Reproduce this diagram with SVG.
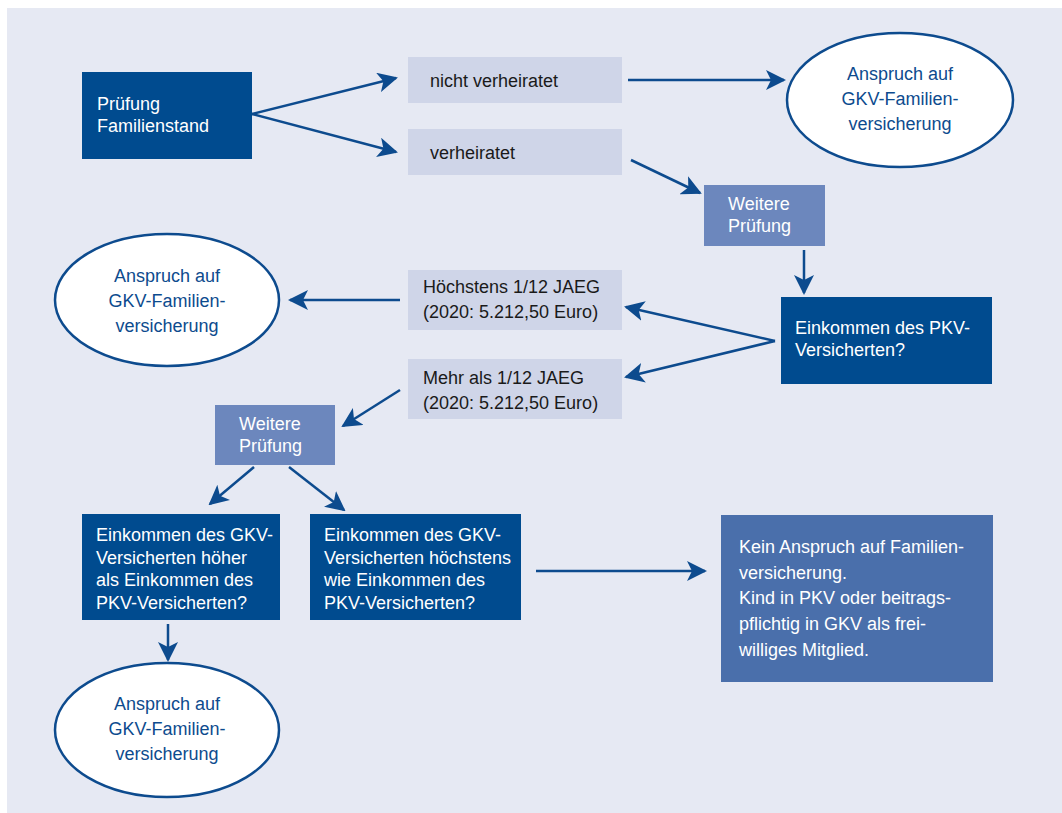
<svg xmlns="http://www.w3.org/2000/svg" width="1062" height="813" viewBox="0 0 1062 813">
<style>
text{font-family:"Liberation Sans",Arial,sans-serif;font-size:18px}
.w{fill:#ffffff}
.k{fill:#1a1a1a}
.b{fill:#0d4b8e}
.c{text-anchor:middle}
.dark{fill:#004b8f}
.light{fill:#cfd5e8}
.mid{fill:#6c87bd}
.kein{fill:#4a6fab}
.ell{fill:#ffffff;stroke:#0d4b8e;stroke-width:2.5}
.con line{stroke:#0d4b8e;stroke-width:2.5;marker-end:url(#ah)}
</style>
<defs>
<marker id="ah" viewBox="0 0 10 10" refX="9" refY="5" markerWidth="8" markerHeight="8" orient="auto">
<path d="M0,0 L10,5 L0,10 L2.5,5 z" fill="#0d4b8e"/>
</marker>
</defs>
<rect width="1062" height="813" fill="#ffffff"/>
<rect x="7" y="8" width="1055" height="805" fill="#e6e9f3"/>

<g class="con" id="connectors">
<line x1="252" y1="114" x2="396" y2="78"/>
<line x1="252" y1="114" x2="396" y2="152"/>
<line x1="628" y1="80" x2="784" y2="80"/>
<line x1="631" y1="160" x2="700" y2="193"/>
<line x1="804" y1="250" x2="804" y2="293"/>
<line x1="775" y1="341" x2="626" y2="307"/>
<line x1="775" y1="341" x2="626" y2="377"/>
<line x1="400" y1="300" x2="290" y2="300"/>
<line x1="400" y1="390" x2="343" y2="426"/>
<line x1="254" y1="467" x2="210" y2="504"/>
<line x1="289" y1="467" x2="344" y2="510"/>
<line x1="536" y1="571" x2="705" y2="571"/>
<line x1="168" y1="624" x2="168" y2="660"/>
</g>

<g id="pruefung-familienstand">
<rect class="dark" x="82" y="72" width="170" height="87"/>
<text class="w" x="97" y="110">Prüfung</text>
<text class="w" x="97" y="132">Familienstand</text>
</g>

<g id="nicht-verheiratet">
<rect class="light" x="408" y="57" width="214" height="46"/>
<text class="k" x="430" y="87">nicht verheiratet</text>
</g>

<g id="verheiratet">
<rect class="light" x="408" y="129" width="214" height="46"/>
<text class="k" x="430" y="159">verheiratet</text>
</g>

<g id="anspruch-1">
<ellipse class="ell" cx="900" cy="100" rx="113" ry="67"/>
<text class="b c" x="900" y="80">Anspruch auf</text>
<text class="b c" x="900" y="105">GKV-Familien-</text>
<text class="b c" x="900" y="130">versicherung</text>
</g>

<g id="weitere-pruefung-1">
<rect class="mid" x="704" y="185" width="121" height="61"/>
<text class="w" x="728" y="210">Weitere</text>
<text class="w" x="728" y="232">Prüfung</text>
</g>

<g id="einkommen-pkv">
<rect class="dark" x="781" y="297" width="211" height="87"/>
<text class="w" x="795" y="334">Einkommen des PKV-</text>
<text class="w" x="795" y="356">Versicherten?</text>
</g>

<g id="hoechstens">
<rect class="light" x="408" y="270" width="214" height="60"/>
<text class="k" x="423" y="293">Höchstens 1/12 JAEG</text>
<text class="k" x="423" y="318">(2020: 5.212,50 Euro)</text>
</g>

<g id="mehr-als">
<rect class="light" x="408" y="359" width="214" height="60"/>
<text class="k" x="423" y="384">Mehr als 1/12 JAEG</text>
<text class="k" x="423" y="409">(2020: 5.212,50 Euro)</text>
</g>

<g id="anspruch-2">
<ellipse class="ell" cx="167" cy="300" rx="112" ry="66"/>
<text class="b c" x="167" y="282">Anspruch auf</text>
<text class="b c" x="167" y="307">GKV-Familien-</text>
<text class="b c" x="167" y="332">versicherung</text>
</g>

<g id="weitere-pruefung-2">
<rect class="mid" x="215" y="405" width="120" height="60"/>
<text class="w" x="239" y="430">Weitere</text>
<text class="w" x="239" y="452">Prüfung</text>
</g>

<g id="gkv-hoeher">
<rect class="dark" x="82" y="514" width="198" height="106"/>
<text class="w" x="96" y="541">Einkommen des GKV-</text>
<text class="w" x="96" y="564">Versicherten höher</text>
<text class="w" x="96" y="586">als Einkommen des</text>
<text class="w" x="96" y="609">PKV-Versicherten?</text>
</g>

<g id="gkv-hoechstens">
<rect class="dark" x="310" y="514" width="211" height="106"/>
<text class="w" x="324" y="541">Einkommen des GKV-</text>
<text class="w" x="324" y="564">Versicherten höchstens</text>
<text class="w" x="324" y="586">wie Einkommen des</text>
<text class="w" x="324" y="609">PKV-Versicherten?</text>
</g>

<g id="kein-anspruch">
<rect class="kein" x="721" y="515" width="272" height="167"/>
<text class="w" x="739" y="553">Kein Anspruch auf Familien-</text>
<text class="w" x="739" y="579">versicherung.</text>
<text class="w" x="739" y="604">Kind in PKV oder beitrags-</text>
<text class="w" x="739" y="630">pflichtig in GKV als frei-</text>
<text class="w" x="739" y="656">williges Mitglied.</text>
</g>

<g id="anspruch-3">
<ellipse class="ell" cx="167" cy="730" rx="112" ry="67"/>
<text class="b c" x="167" y="710">Anspruch auf</text>
<text class="b c" x="167" y="735">GKV-Familien-</text>
<text class="b c" x="167" y="760">versicherung</text>
</g>
</svg>
